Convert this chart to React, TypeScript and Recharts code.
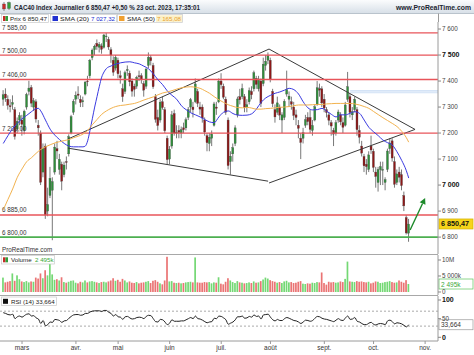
import React from 'react';
import { ComposedChart, Bar, Line, XAxis, YAxis, ReferenceLine } from 'recharts';

const W = 474;
const FONT = '"Liberation Sans", Arial, sans-serif';

// daily OHLC, 17 feb. -> 23 oct. 2023 (index = trading day)
const candles: [number, number, number, number][] = [
  [7330, 7365, 7305, 7347], [7350, 7372, 7320, 7335], [7330, 7345, 7290, 7307], [7305, 7330, 7280, 7301], [7310, 7345, 7290, 7317],
  [7290, 7300, 7175, 7187], [7215, 7260, 7200, 7245], [7250, 7280, 7230, 7267], [7250, 7270, 7190, 7234], [7210, 7290, 7195, 7284],
  [7300, 7355, 7290, 7348], [7360, 7401, 7345, 7373], [7375, 7385, 7300, 7315], [7300, 7335, 7285, 7324], [7320, 7330, 7240, 7254],
  [7230, 7250, 7190, 7220], [7200, 7210, 7000, 7011], [7050, 7160, 7030, 7141], [7150, 7160, 6870, 6885], [6900, 6990, 6880, 6925],
  [6960, 7070, 6950, 7026], [6980, 7030, 6788, 7013], [7050, 7160, 7040, 7146], [7140, 7170, 7100, 7131], [7060, 7120, 7040, 7099],
  [7080, 7090, 6980, 7015], [7040, 7090, 7030, 7077], [7090, 7110, 7060, 7088], [7120, 7195, 7110, 7186], [7200, 7270, 7195, 7263],
  [7280, 7330, 7270, 7322], [7330, 7360, 7310, 7345], [7350, 7380, 7330, 7345], [7330, 7345, 7300, 7317], [7320, 7340, 7300, 7324],
  [7350, 7400, 7345, 7396], [7400, 7420, 7380, 7399], [7420, 7485, 7410, 7480], [7490, 7525, 7480, 7519], [7520, 7540, 7500, 7534],
  [7545, 7560, 7520, 7533], [7530, 7550, 7510, 7541], [7535, 7545, 7505, 7522], [7530, 7581, 7525, 7577], [7570, 7585, 7550, 7573],
  [7560, 7570, 7520, 7531], [7520, 7530, 7470, 7500], [7480, 7495, 7420, 7434], [7450, 7500, 7440, 7491], [7480, 7490, 7410, 7428],
  [7420, 7440, 7390, 7413], [7370, 7390, 7320, 7340], [7360, 7440, 7350, 7432], [7440, 7460, 7420, 7444], [7430, 7440, 7380, 7397],
  [7400, 7410, 7340, 7361], [7380, 7390, 7340, 7368], [7380, 7420, 7370, 7414], [7420, 7440, 7400, 7418], [7420, 7430, 7390, 7406],
  [7390, 7400, 7340, 7365], [7380, 7450, 7370, 7446], [7460, 7510, 7450, 7491], [7490, 7500, 7460, 7478], [7460, 7470, 7370, 7378],
  [7340, 7350, 7240, 7253], [7260, 7290, 7210, 7229], [7250, 7330, 7240, 7319], [7320, 7340, 7290, 7298], [7290, 7300, 7200, 7209],
  [7180, 7190, 7080, 7098], [7100, 7150, 7080, 7138], [7150, 7285, 7140, 7270], [7275, 7290, 7190, 7200], [7200, 7230, 7180, 7203],
  [7210, 7230, 7180, 7203], [7200, 7225, 7180, 7213], [7220, 7240, 7200, 7213], [7220, 7260, 7210, 7251], [7260, 7300, 7250, 7290],
  [7300, 7335, 7280, 7328], [7300, 7320, 7260, 7290], [7320, 7410, 7315, 7389], [7360, 7370, 7300, 7314], [7300, 7320, 7270, 7292],
  [7300, 7310, 7240, 7258], [7250, 7260, 7190, 7204], [7190, 7200, 7130, 7163], [7160, 7200, 7130, 7184], [7180, 7210, 7150, 7196],
  [7230, 7320, 7225, 7312], [7300, 7320, 7270, 7295], [7320, 7410, 7315, 7400], [7400, 7430, 7370, 7386], [7380, 7390, 7330, 7338],
  [7330, 7340, 7270, 7280], [7250, 7260, 7060, 7075], [7090, 7130, 7040, 7111], [7120, 7160, 7090, 7144], [7160, 7230, 7150, 7220],
  [7270, 7340, 7260, 7331], [7340, 7370, 7310, 7328], [7340, 7390, 7330, 7371], [7340, 7350, 7280, 7298], [7300, 7330, 7280, 7309],
  [7320, 7375, 7310, 7363], [7360, 7380, 7330, 7347], [7370, 7440, 7360, 7432], [7410, 7420, 7370, 7387], [7370, 7420, 7360, 7408],
  [7400, 7410, 7300, 7314], [7390, 7490, 7380, 7465], [7460, 7500, 7440, 7476], [7480, 7510, 7465, 7497], [7480, 7490, 7395, 7406],
  [7360, 7370, 7300, 7313], [7290, 7310, 7240, 7262], [7280, 7340, 7270, 7316], [7300, 7310, 7250, 7269], [7250, 7280, 7200, 7270],
  [7260, 7330, 7250, 7322], [7350, 7440, 7340, 7367], [7330, 7360, 7300, 7342], [7320, 7340, 7290, 7311], [7300, 7320, 7250, 7268],
  [7270, 7290, 7230, 7260], [7230, 7250, 7180, 7218], [7180, 7200, 7100, 7164], [7180, 7220, 7160, 7201], [7230, 7270, 7220, 7251],
  [7260, 7280, 7230, 7244], [7260, 7290, 7200, 7214], [7210, 7250, 7190, 7229], [7250, 7310, 7245, 7301], [7310, 7400, 7305, 7374],
  [7370, 7390, 7340, 7365], [7370, 7380, 7300, 7316], [7330, 7350, 7280, 7296], [7290, 7300, 7260, 7279], [7270, 7280, 7230, 7249],
  [7240, 7250, 7190, 7227], [7210, 7220, 7150, 7196], [7200, 7250, 7190, 7240], [7250, 7290, 7240, 7281], [7270, 7280, 7230, 7243],
  [7240, 7260, 7200, 7222], [7230, 7320, 7225, 7308], [7330, 7435, 7320, 7378], [7340, 7350, 7260, 7279], [7270, 7300, 7250, 7282],
  [7290, 7340, 7280, 7330], [7290, 7300, 7190, 7213], [7210, 7230, 7160, 7184], [7150, 7170, 7110, 7123], [7110, 7120, 7050, 7074],
  [7080, 7100, 7040, 7071], [7060, 7130, 7050, 7116], [7150, 7190, 7120, 7135], [7130, 7140, 7050, 7068], [7050, 7070, 6990, 7033],
  [7010, 7070, 6975, 7060], [7060, 7090, 7000, 7071], [7060, 7090, 7000, 7060], [7010, 7030, 6980, 7021], [7060, 7140, 7050, 7131],
  [7140, 7180, 7120, 7162], [7170, 7180, 7090, 7104], [7090, 7110, 6990, 7003], [7010, 7060, 7000, 7043], [7050, 7070, 7010, 7030],
  [7040, 7060, 6980, 6998], [6960, 6975, 6900, 6920], [6875, 6885, 6810, 6816], [6815, 6870, 6782, 6850],
];

// volume in thousands
const volumesK = [
  4500, 3000, 3200, 3400, 5800, 3500, 5200, 4000, 3300, 3100,
  3400, 3000, 3300, 3200, 4500, 4200, 5800, 4300, 6800, 5200,
  9200, 5500, 3800, 4000, 3600, 4600, 3100, 2900, 3200, 3500,
  3600, 2900, 2700, 3200, 3000, 3600, 3000, 3300, 3400, 3200,
  3000, 2800, 3100, 3200, 3000, 3300, 3600, 4300, 3500, 3800,
  3200, 4100, 3600, 3000, 3300, 2900, 2800, 3100, 2700, 2900,
  3000, 3200, 3400, 2800, 3500, 3700, 3200, 2700, 2400, 3600,
  11000, 3300, 3400, 2900, 2800, 2900, 2700, 2800, 3000, 3100,
  3200, 3000, 10800, 3000, 2900, 2900, 3100, 3000, 3100, 2700,
  3000, 2900, 4600, 2600, 2400, 3200, 4300, 3600, 3100, 2800,
  3400, 3000, 2900, 2700, 2800, 3000, 2800, 3300, 2900, 3000,
  3400, 3900, 4500, 4200, 3700, 3400, 3200, 2900, 3100, 2800,
  3300, 3500, 3000, 3100, 2800, 2900, 3200, 3400, 2600, 2500,
  2700, 2600, 2900, 2800, 3100, 3000, 6100, 2800, 2300, 3200,
  3000, 3100, 2900, 3000, 3300, 3100, 4100, 9500, 3300, 3200,
  3100, 3400, 3200, 3300, 3100, 3000, 3200, 2700, 2900, 3300,
  3200, 2800, 2900, 3100, 3200, 3400, 3100, 2900, 3000, 3600,
  3200, 2900, 3700, 2495,
];

const rsi14 = [
  66, 64, 61, 60, 62, 50, 55, 57, 54, 58,
  62, 63, 57, 58, 52, 49, 37, 45, 31, 34,
  41, 40, 48, 47, 45, 40, 44, 45, 51, 56,
  60, 61, 61, 59, 60, 64, 64, 68, 70, 71,
  71, 71, 69, 72, 72, 67, 64, 57, 61, 55,
  54, 48, 55, 56, 52, 49, 50, 53, 54, 53,
  50, 56, 59, 58, 50, 42, 41, 48, 47, 41,
  34, 38, 47, 43, 43, 43, 44, 44, 47, 50,
  53, 50, 57, 50, 49, 46, 42, 39, 41, 42,
  51, 50, 57, 56, 52, 47, 35, 38, 41, 47,
  55, 55, 57, 51, 52, 56, 54, 60, 56, 57,
  49, 60, 61, 62, 54, 47, 44, 48, 45, 45,
  50, 53, 51, 48, 45, 44, 41, 37, 41, 46,
  45, 43, 45, 51, 56, 55, 51, 49, 48, 46,
  44, 42, 46, 50, 46, 45, 52, 57, 48, 49,
  53, 43, 41, 37, 34, 34, 38, 40, 35, 33,
  36, 37, 36, 34, 44, 46, 42, 36, 39, 38,
  36, 32, 28, 33.66,
];

// moving averages: [day, value]
const sma20Pts: [number, number][] = [
  [0, 7160], [2, 7190], [4, 7217], [6, 7237], [8, 7255], [10, 7268], [12, 7282], [14, 7294], [15, 7295], [16, 7285],
  [18, 7250], [20, 7215], [22, 7192], [24, 7175], [26, 7160], [28, 7150], [30, 7147], [32, 7147], [34, 7147], [35, 7150],
  [36, 7170], [37, 7210], [38, 7255], [39, 7300], [40, 7340], [41, 7380], [42, 7415], [43, 7435], [44, 7448], [46, 7458],
  [48, 7465], [50, 7470], [52, 7473], [54, 7474], [56, 7470], [58, 7466], [60, 7457], [62, 7447], [64, 7428], [66, 7405],
  [68, 7386], [70, 7362], [72, 7345], [74, 7330], [76, 7305], [78, 7290], [80, 7278], [82, 7270], [84, 7262], [86, 7252],
  [88, 7243], [90, 7240], [92, 7262], [94, 7280], [96, 7285], [98, 7275], [100, 7269], [102, 7268], [104, 7269], [106, 7274],
  [108, 7292], [110, 7318], [112, 7335], [114, 7345], [116, 7353], [118, 7358], [120, 7365], [122, 7372], [124, 7367], [126, 7350],
  [128, 7320], [130, 7297], [132, 7289], [134, 7290], [136, 7295], [138, 7284], [140, 7272], [142, 7262], [144, 7270], [146, 7270],
  [148, 7276], [150, 7282], [152, 7276], [154, 7250], [156, 7222], [158, 7205], [160, 7190], [162, 7173], [164, 7163], [166, 7154],
  [168, 7128], [170, 7095], [172, 7055], [173, 7027],
];

const sma50Pts: [number, number][] = [
  [0, 6905], [2, 6945], [4, 6985], [6, 7030], [8, 7062], [10, 7090], [12, 7105], [14, 7122], [16, 7137], [18, 7147],
  [20, 7155], [22, 7162], [24, 7167], [26, 7171], [28, 7175], [30, 7182], [32, 7188], [34, 7196], [36, 7210], [38, 7232],
  [40, 7252], [42, 7272], [44, 7285], [46, 7295], [48, 7302], [50, 7306], [52, 7308], [54, 7311], [56, 7314], [58, 7320],
  [60, 7327], [62, 7333], [64, 7339], [66, 7347], [68, 7354], [70, 7358], [72, 7363], [74, 7369], [76, 7374], [78, 7377],
  [80, 7378], [82, 7376], [84, 7372], [86, 7363], [88, 7353], [90, 7340], [92, 7328], [94, 7318], [96, 7309], [98, 7303],
  [100, 7298], [102, 7297], [104, 7299], [106, 7296], [108, 7292], [110, 7292], [112, 7294], [114, 7295], [116, 7297], [118, 7299],
  [120, 7300], [122, 7302], [124, 7305], [126, 7308], [128, 7308], [130, 7308], [132, 7309], [134, 7310], [136, 7310], [138, 7312],
  [140, 7313], [142, 7314], [144, 7314], [146, 7314], [148, 7314], [150, 7312], [152, 7308], [154, 7302], [156, 7295], [158, 7283],
  [160, 7271], [162, 7259], [164, 7248], [166, 7237], [168, 7225], [170, 7207], [172, 7182], [173, 7165],
];

const monthTicks = [8, 31, 49, 71, 93, 114, 137, 158, 180];
const monthLabels = ['mars', 'avr.', 'mai', 'juin', 'juil.', 'août', 'sept.', 'oct.', 'nov.'];
const priceTicks = [6800, 6900, 7000, 7100, 7200, 7300, 7400, 7500, 7600];
const volTicks = [0, 5000, 10000];
const rsiTicks = [0, 50, 100];

const levels = [
  { v: 7585, label: '7 585,00', color: '#e8545a' },
  { v: 7500, label: '7 500,00', color: '#e8545a' },
  { v: 7406, label: '7 406,00', color: '#e8545a' },
  { v: 7200, label: '7 200,00', color: '#e8545a' },
  { v: 6885, label: '6 885,00', color: '#e8545a' },
  { v: 6800, label: '6 800,00', color: '#4caf50' },
];

// trend lines: [day, price, day, price]
const trendLines: [number, number, number, number][] = [
  [27.6, 7177, 113.4, 7523],
  [27.6, 7142, 113, 7015],
  [113.4, 7523, 175.7, 7214],
  [113.4, 7008, 175.7, 7214],
];
const arrow = [173.6, 6827, 180, 6950];
const lastClose = 6850.47;
const lastVolK = 2495;
const lastRsi = 33.664;

const X_DOMAIN: [number, number] = [-1.4, 185.5];

const sma20Map = new Map(sma20Pts);
const sma50Map = new Map(sma50Pts);
const data = candles.map(([o, h, l, c], i) => ({
  i, o, h, l, c,
  range: [l, h],
  vol: volumesK[i],
  rsi: rsi14[i],
  sma20: sma20Map.has(i) ? sma20Map.get(i) : null,
  sma50: sma50Map.has(i) ? sma50Map.get(i) : null,
}));

const spaced = (v: number) => String(v).replace(/\B(?=(\d{3})+(?!\d))/g, ' ');

const Candle = (props: any) => {
  const { x, y, width, height, payload } = props;
  if (x == null || y == null || !payload) return null;
  const top = Math.min(y, y + height);
  const hh = Math.abs(height);
  const { o, h, l, c } = payload;
  const py = (v: number) => top + (h === l ? 0 : ((h - v) / (h - l)) * hh);
  const cx = x + width / 2;
  const b1 = py(Math.max(o, c));
  const b2 = py(Math.min(o, c));
  return (
    <g>
      <line x1={cx} x2={cx} y1={top} y2={top + hh} stroke="#555" strokeWidth={0.8} />
      <rect x={x} y={b1} width={width} height={Math.max(0.8, b2 - b1)}
        fill={c >= o ? '#2f8f3a' : '#8e1818'} stroke="#444" strokeWidth={0.3} />
    </g>
  );
};

const VolBar = (props: any) => {
  const { x, y, width, height, payload } = props;
  if (x == null || !payload) return null;
  return <rect x={x} y={Math.min(y, y + height)} width={width} height={Math.abs(height)}
    fill={payload.c >= payload.o ? '#74d874' : '#ea7474'} />;
};

const makeTick = (fmt: (v: number) => string, bold: number[]) => (props: any) => {
  const { x, y, payload } = props;
  const b = bold.includes(payload.value);
  return (
    <text x={x} y={y} dy={2.3} fontSize={b ? 7 : 6.3} fontWeight={b ? 'bold' : 'normal'}
      fill={b ? '#111' : '#444'} fontFamily={FONT} textAnchor="start">{fmt(payload.value)}</text>
  );
};

const PriceTick = makeTick(spaced, [7500, 7000]);
const VolTick = makeTick((v) => (v === 0 ? '0' : v >= 10000 ? `${v / 1000}M` : `${spaced(v)}k`), []);
const RsiTick = makeTick((v) => String(v), [100, 0]);

// horizontal level line with its label above the left end
const LevelShape = (p: any) => {
  const { x1, y1, x2, y2, color, width, text } = p;
  if (x1 == null) return null;
  const left = Math.min(x1, x2);
  return (
    <g>
      <line x1={x1} y1={y1} x2={x2} y2={y2} stroke={color} strokeWidth={width} />
      <text x={left + 2} y={y1 - 2.5} fontSize={6.3} fill="#333" fontFamily={FONT}>{text}</text>
    </g>
  );
};

const AxisTag = (props: any) => {
  const { viewBox, text, bg, border, color, bold } = props;
  if (!viewBox) return null;
  const x = viewBox.x + viewBox.width + 1;
  const y = viewBox.y;
  return (
    <g>
      <rect x={x} y={y - 5} width={34} height={10} fill={bg} stroke={border} strokeWidth={0.7} />
      <text x={x + 2} y={y + 2.5} fontSize={bold ? 7.2 : 6.5} fontWeight={bold ? 'bold' : 'normal'}
        fill={color} fontFamily={FONT}>{text}</text>
    </g>
  );
};

const ArrowShape = (p: any) => {
  const { x1, y1, x2, y2 } = p;
  if (x1 == null) return null;
  const a = Math.atan2(y2 - y1, x2 - x1);
  const L = 6;
  const hw = 3.2;
  const bx = x2 - L * Math.cos(a);
  const by = y2 - L * Math.sin(a);
  const nx = -Math.sin(a) * hw;
  const ny = Math.cos(a) * hw;
  return (
    <g>
      <line x1={x1} y1={y1} x2={bx} y2={by} stroke="#1d8a2a" strokeWidth={1.4} />
      <polygon points={`${x2},${y2} ${bx + nx},${by + ny} ${bx - nx},${by - ny}`} fill="#1d8a2a" />
    </g>
  );
};

const Overlay = () => (
  <svg width={W} height={355} style={{ position: 'absolute', left: 0, top: 0, pointerEvents: 'none' }}>
    <defs>
      <linearGradient id="hdr" x1="0" y1="0" x2="0" y2="1">
        <stop offset="0" stopColor="#fbfcfd" />
        <stop offset="1" stopColor="#d8e0e8" />
      </linearGradient>
    </defs>
    <rect x={0} y={0} width={W} height={13} fill="url(#hdr)" />
    <line x1={0} x2={W} y1={13.5} y2={13.5} stroke="#b9c3cc" strokeWidth={1} />
    <line x1={4} x2={4} y1={2} y2={11} stroke="#444" strokeWidth={0.6} />
    <rect x={2.5} y={4} width={3} height={5} fill="#cc2a2a" stroke="#444" strokeWidth={0.3} />
    <line x1={9} x2={9} y1={1.5} y2={10} stroke="#444" strokeWidth={0.6} />
    <rect x={7.5} y={2.5} width={3} height={6} fill="#2f9f3a" stroke="#444" strokeWidth={0.3} />
    <text x={14} y={9.5} fontSize={6.3} fontWeight="bold" fill="#1b2430" fontFamily={FONT}
      textLength={186} lengthAdjust="spacingAndGlyphs">CAC40 Index Journalier 6 850,47 +0,50 % 23 oct. 2023, 17:35:01</text>
    <text x={396} y={9.5} fontSize={6.3} fontWeight="bold" fill="#1b2430" fontFamily={FONT}
      textLength={75} lengthAdjust="spacingAndGlyphs">www.ProRealTime.com</text>

    <rect x={1.5} y={14.5} width={47} height={8} fill="#fff" stroke="#c9c9c9" strokeWidth={0.7} />
    <rect x={3} y={16} width={2.5} height={5} fill="#c82828" />
    <rect x={5.5} y={16} width={2.5} height={5} fill="#2f9f3a" />
    <text x={10} y={20.8} fontSize={6.2} fill="#222" fontFamily={FONT} textLength={37} lengthAdjust="spacingAndGlyphs">Prix 6 850,47</text>

    <rect x={50.5} y={14.5} width={66} height={8} fill="#fff" stroke="#c9c9c9" strokeWidth={0.7} />
    <rect x={52.5} y={16} width={5.5} height={5} fill="#2030d0" />
    <text x={60} y={20.8} fontSize={6.2} fill="#222" fontFamily={FONT} textLength={29} lengthAdjust="spacingAndGlyphs">SMA (20)</text>
    <text x={91} y={20.8} fontSize={6.2} fill="#2030d0" fontFamily={FONT} textLength={24} lengthAdjust="spacingAndGlyphs">7 027,32</text>

    <rect x={117.5} y={14.5} width={65} height={8} fill="#fff" stroke="#c9c9c9" strokeWidth={0.7} />
    <rect x={119} y={16} width={5.5} height={5} fill="#f0a030" />
    <text x={127} y={20.8} fontSize={6.2} fill="#222" fontFamily={FONT} textLength={28} lengthAdjust="spacingAndGlyphs">SMA (50)</text>
    <rect x={156} y={15.3} width={26} height={6.5} fill="#fbf0c8" />
    <text x={157} y={20.8} fontSize={6.2} fill="#e8a030" fontFamily={FONT} textLength={24} lengthAdjust="spacingAndGlyphs">7 165,08</text>

    <line x1={438.5} x2={438.5} y1={13.5} y2={22} stroke="#9a9a9a" strokeWidth={1} />

    <text x={2} y={252} fontSize={6.3} fill="#333" fontFamily={FONT}>ProRealTime.com</text>
    <line x1={0} x2={438} y1={254.5} y2={254.5} stroke="#a8a8a8" strokeWidth={1} />
    <line x1={0} x2={438} y1={295.5} y2={295.5} stroke="#a8a8a8" strokeWidth={1} />

    <rect x={1.5} y={255.5} width={53} height={8.5} fill="#fff" stroke="#c9c9c9" strokeWidth={0.7} />
    <rect x={3} y={257.3} width={2.5} height={5} fill="#c82828" />
    <rect x={5.5} y={257.3} width={2.5} height={5} fill="#2f9f3a" />
    <text x={11} y={262} fontSize={6.2} fill="#222" fontFamily={FONT}>Volume</text>
    <text x={35} y={262} fontSize={6.2} fill="#3aa83a" fontFamily={FONT}>2 495k</text>

    <rect x={1.5} y={297} width={55} height={8.5} fill="#fff" stroke="#c9c9c9" strokeWidth={0.7} />
    <rect x={3} y={298.8} width={5} height={5} fill="#111" />
    <text x={11} y={303.6} fontSize={6.2} fill="#222" fontFamily={FONT}>RSI (14) 33,664</text>
  </svg>
);

export default function App() {
  return (
    <div style={{ position: 'absolute', left: 0, top: 0, width: W, height: 355, background: '#fff', fontFamily: FONT }}>
      <div style={{ position: 'absolute', left: 0, top: 0 }}>
        <ComposedChart width={W} height={254} data={data} margin={{ top: 22, right: 0, bottom: 0, left: 0 }}>
          <XAxis type="number" dataKey="i" domain={X_DOMAIN} hide allowDataOverflow />
          <YAxis orientation="right" width={36} domain={[6735, 7627]} ticks={priceTicks} allowDataOverflow
            interval={0} tick={<PriceTick />} tickSize={3} tickMargin={1}
            tickLine={{ stroke: '#888' }} axisLine={{ stroke: '#9a9a9a' }} />
          <ReferenceLine segment={[{ x: 148, y: 7362 }, { x: 185.5, y: 7362 }]} stroke="#b5cff0" strokeWidth={1} />
          <ReferenceLine segment={[{ x: 148, y: 7355 }, { x: 185.5, y: 7355 }]} stroke="#cfe0f5" strokeWidth={1} />
          {trendLines.map(([x1, y1, x2, y2], k) => (
            <ReferenceLine key={`t${k}`} segment={[{ x: x1, y: y1 }, { x: x2, y: y2 }]} stroke="#3a3a3a" strokeWidth={1} />
          ))}
          {levels.map((lv) => (
            <ReferenceLine key={`lvl-${lv.v}`} y={lv.v}
              shape={<LevelShape color={lv.color} width={lv.v === 6800 ? 1.6 : 1.3} text={lv.label} />} />
          ))}
          <Bar dataKey="range" barSize={2} shape={<Candle />} isAnimationActive={false} />
          <Line dataKey="sma20" type="monotone" stroke="#3a3ae0" strokeWidth={1} dot={false} connectNulls isAnimationActive={false} />
          <Line dataKey="sma50" type="monotone" stroke="#f2b24e" strokeWidth={1} dot={false} connectNulls isAnimationActive={false} />
          <ReferenceLine segment={[{ x: arrow[0], y: arrow[1] }, { x: arrow[2], y: arrow[3] }]} shape={<ArrowShape />} />
          <ReferenceLine y={lastClose} stroke="none"
            label={<AxisTag text="6 850,47" bg="#f6d41a" border="#d4b000" color="#111" bold />} />
        </ComposedChart>
      </div>
      <div style={{ position: 'absolute', left: 0, top: 254 }}>
        <ComposedChart width={W} height={41} data={data} margin={{ top: 1, right: 0, bottom: 0, left: 0 }}>
          <XAxis type="number" dataKey="i" domain={X_DOMAIN} hide allowDataOverflow />
          <YAxis orientation="right" width={36} domain={[-940, 11560]} ticks={volTicks} allowDataOverflow
            interval={0} tick={<VolTick />} tickSize={3} tickMargin={1}
            tickLine={{ stroke: '#888' }} axisLine={{ stroke: '#9a9a9a' }} />
          <Bar dataKey="vol" barSize={1.7} shape={<VolBar />} isAnimationActive={false} />
          <ReferenceLine y={lastVolK} stroke="none"
            label={<AxisTag text="2 495k" bg="#fff" border="#5cc45c" color="#3aa83a" />} />
        </ComposedChart>
      </div>
      <div style={{ position: 'absolute', left: 0, top: 295 }}>
        <ComposedChart width={W} height={60} data={data} margin={{ top: 1, right: 0, bottom: 0, left: 0 }}>
          <XAxis type="number" dataKey="i" domain={X_DOMAIN} allowDataOverflow ticks={monthTicks} interval={0}
            tickFormatter={(v: number) => monthLabels[monthTicks.indexOf(v)] ?? ''}
            height={14} tickSize={3} tickMargin={1}
            tick={{ fontSize: 6.5, fill: '#333', fontFamily: FONT }}
            tickLine={{ stroke: '#999' }} axisLine={{ stroke: '#9a9a9a' }} />
          <YAxis orientation="right" width={36} domain={[-9.9, 110.7]} ticks={rsiTicks} allowDataOverflow
            interval={0} tick={<RsiTick />} tickSize={3} tickMargin={1}
            tickLine={{ stroke: '#888' }} axisLine={{ stroke: '#9a9a9a' }} />
          <ReferenceLine y={70} stroke="#aaa" strokeDasharray="2 2" />
          <ReferenceLine y={30} stroke="#aaa" strokeDasharray="2 2" />
          <Line dataKey="rsi" type="monotone" stroke="#222" strokeWidth={1} dot={false} isAnimationActive={false} />
          <ReferenceLine y={lastRsi} stroke="none"
            label={<AxisTag text="33,664" bg="#fff" border="#999" color="#333" />} />
        </ComposedChart>
      </div>
      <Overlay />
    </div>
  );
}
